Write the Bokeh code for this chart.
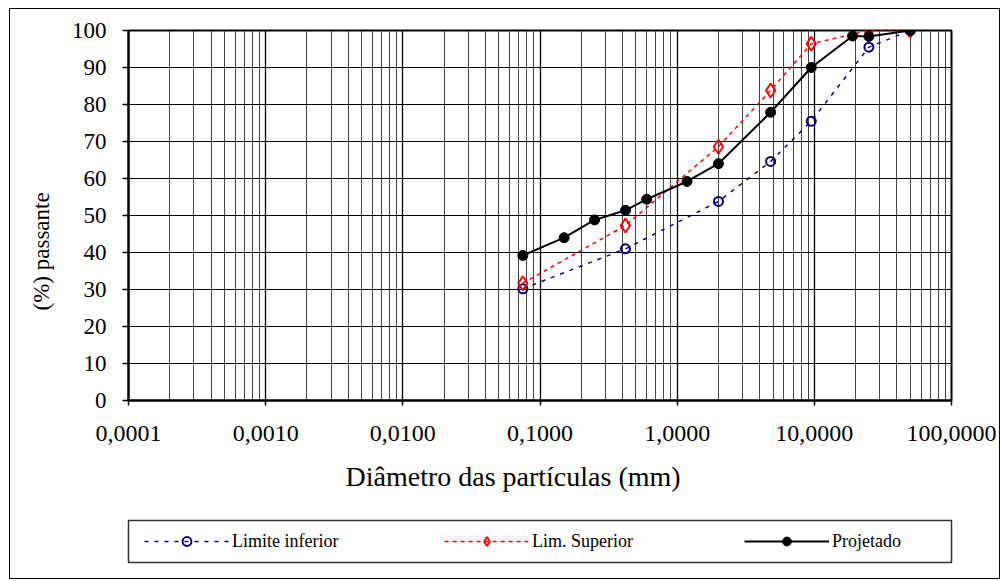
from bokeh.plotting import figure
from bokeh.layouts import column
from bokeh.models import (FixedTicker, Legend, LegendItem, Title, Range1d)
from bokeh.embed import file_html
from bokeh.resources import INLINE

# ---- data ----
inf_x = [0.075, 0.42, 2.0, 4.8, 9.5, 25, 50]
inf_y = [30.2, 41.0, 53.8, 64.6, 75.5, 95.5, 100]
sup_x = [0.075, 0.42, 2.0, 4.8, 9.5, 25, 50]
sup_y = [31.7, 47.3, 68.6, 83.8, 96.4, 100, 100]
proj_x = [0.075, 0.15, 0.25, 0.42, 0.6, 1.18, 2.0, 4.8, 9.5, 19, 25, 50]
proj_y = [39.2, 44.0, 48.8, 51.4, 54.4, 59.2, 64.0, 77.9, 90.0, 98.5, 98.4, 100]

x_ticks = [0.0001, 0.001, 0.01, 0.1, 1, 10, 100]
x_tick_labels = ["0,0001", "0,0010", "0,0100", "0,1000", "1,0000", "10,0000", "100,0000"]
y_ticks = [0, 10, 20, 30, 40, 50, 60, 70, 80, 90, 100]

series_names = ["Limite inferior", "Lim. Superior", "Projetado"]

FONT = "Liberation Serif"

INF_STYLE = dict(line_color="#000080", line_width=1.5, line_dash="4 6")
INF_MARK = dict(marker="circle", size=9, fill_color=None, line_color="#000080", line_width=2)
SUP_STYLE = dict(line_color="#FF0000", line_width=1.5, line_dash="4 4")
SUP_MARK = dict(marker="diamond", size=14, fill_color=None, line_color="#FF0000", line_width=2)
PROJ_STYLE = dict(line_color="black", line_width=2)
PROJ_MARK = dict(marker="circle", size=10, fill_color="black", line_color="black")

minor = [k * d for d in x_ticks[:-1] for k in range(2, 10)]

# ---------------- main chart ----------------
p = figure(width=989, height=500, x_axis_type="log",
           x_range=Range1d(0.0001, 100), y_range=Range1d(0, 100),
           output_backend="svg", toolbar_location=None,
           min_border_left=118, min_border_right=48, min_border_top=21,
           min_border_bottom=109, background_fill_color="white",
           border_fill_color="white")

p.outline_line_color = "black"
p.outline_line_width = 2

xt = FixedTicker(ticks=x_ticks, minor_ticks=minor)
p.xaxis.ticker = xt
p.xgrid.ticker = xt
p.xaxis.major_label_overrides = {t: l for t, l in zip(x_ticks, x_tick_labels)}
p.yaxis.ticker = FixedTicker(ticks=y_ticks)

p.xgrid.grid_line_color = "black"
p.xgrid.grid_line_width = 1.3
p.xgrid.minor_grid_line_color = "#444444"
p.xgrid.minor_grid_line_width = 1
p.ygrid.grid_line_color = "black"
p.ygrid.grid_line_width = 1

for ax in (p.xaxis, p.yaxis):
    ax.axis_line_color = "black"
    ax.axis_line_width = 2
    ax.major_tick_line_color = "black"
    ax.major_tick_line_width = 1.5
    ax.major_tick_in = 0
    ax.minor_tick_line_color = None
    ax.major_label_text_font = FONT
    ax.major_label_text_color = "black"

p.yaxis.major_tick_out = 6
p.yaxis.major_label_text_font_size = "23px"
p.yaxis.major_label_standoff = 16

p.xaxis.major_tick_out = 5
p.xaxis.major_label_text_font_size = "24px"
p.xaxis.major_label_standoff = 20

ytitle = Title(text="(%)  passante", align="left", offset=90,
               text_font=FONT, text_font_size="23px", text_font_style="normal",
               text_color="black", standoff=30)
p.add_layout(ytitle, "left")

xtitle = Title(text="Diâmetro das partículas (mm)", align="left", offset=217,
               text_font=FONT, text_font_size="28px", text_font_style="normal",
               text_color="black", standoff=30)
p.add_layout(xtitle, "below")

p.line(inf_x, inf_y, **INF_STYLE)
p.scatter(inf_x, inf_y, **INF_MARK)
p.line(sup_x, sup_y, **SUP_STYLE)
p.scatter(sup_x, sup_y, **SUP_MARK)
p.line(proj_x, proj_y, **PROJ_STYLE)
p.scatter(proj_x, proj_y, **PROJ_MARK)

# ---------------- legend strip ----------------
# the series are drawn again here only so that the legend has glyphs to show;
# their values lie outside this strip's ranges, so nothing is visible.
lg = figure(width=989, height=69, x_range=Range1d(0, 0.01), y_range=Range1d(0, 1),
            x_axis_location=None, y_axis_location=None,
            output_backend="svg", toolbar_location=None,
            min_border_left=90, min_border_right=34, min_border_top=11,
            min_border_bottom=16, background_fill_color="white",
            border_fill_color="white")
lg.grid.visible = False
lg.outline_line_color = "#333333"
lg.outline_line_width = 1.5

r1 = [lg.line(inf_x, inf_y, **INF_STYLE), lg.scatter(inf_x, inf_y, **INF_MARK)]
r2 = [lg.line(sup_x, sup_y, **SUP_STYLE), lg.scatter(sup_x, sup_y, **SUP_MARK)]
r3 = [lg.line(proj_x, proj_y, **PROJ_STYLE), lg.scatter(proj_x, proj_y, **PROJ_MARK)]

legend = Legend(items=[
    LegendItem(label=series_names[0], renderers=r1),
    LegendItem(label=series_names[1], renderers=r2),
    LegendItem(label=series_names[2], renderers=r3),
], orientation="horizontal", location=(16, 10), glyph_width=85, glyph_height=22,
    label_standoff=3, label_width=127, spacing=85, padding=0, margin=0,
    border_line_color=None, background_fill_alpha=0,
    label_text_font=FONT, label_text_font_size="18px", label_text_color="black")
lg.add_layout(legend, "center")

layout = column(p, lg, spacing=0, margin=(9, 0, 0, 10),
                styles={"outline": "1.5px solid black"})

open("out.html", "w").write(file_html(layout, INLINE))
